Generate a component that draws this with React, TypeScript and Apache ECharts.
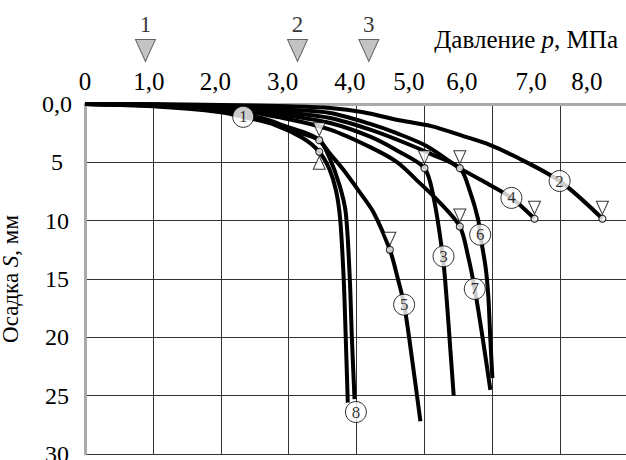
import React, { useEffect, useRef } from "react";
import * as echarts from "echarts";

// Axis ticks (grid units along the pressure axis) and their printed labels
const xLabelPos = [0, 0.94, 1.92, 2.91, 3.9, 4.77, 5.55, 6.57, 7.39];
const xLabelText = ["0", "1,0", "2,0", "3,0", "4,0", "5,0", "6,0", "7,0", "8,0"];

// Settlement curves: [pressure, settlement mm]
const curve1 = [[0, 0], [1, 0.2], [2, 0.7], [2.33, 1.1], [2.8, 1.8], [3.2, 2.9], [3.45, 4.1], [3.6, 5.6], [3.7, 7.5], [3.76, 10], [3.81, 15], [3.84, 20], [3.87, 25.6]];
const curve2 = [[0, 0], [1, 0.02], [2, 0.08], [3, 0.2], [3.61, 0.34], [4.1, 0.7], [4.59, 1.35], [5.1, 1.9], [5.57, 2.75], [5.96, 3.5], [6.3, 4.4], [6.99, 6.6], [7.62, 9.83]];
const curve3 = [[0, 0], [1, 0.06], [2, 0.3], [3, 1.0], [3.61, 1.63], [4.2, 2.8], [4.6, 4.0], [5.0, 5.5], [5.13, 7.9], [5.27, 13.1], [5.33, 17], [5.38, 21], [5.43, 25.0]];
const curve4 = [[0, 0], [1, 0.04], [2, 0.2], [3, 0.5], [3.61, 0.77], [4.2, 1.7], [4.59, 2.5], [5.03, 3.6], [5.52, 5.5], [5.92, 6.8], [6.28, 8.05], [6.62, 9.83]];
const curve5 = [[0, 0], [1, 0.15], [2, 0.55], [2.6, 1.2], [3.0, 2.0], [3.3, 2.6], [3.45, 3.1], [3.6, 4.2], [3.8, 5.6], [4.05, 7.6], [4.25, 9.3], [4.49, 12.5], [4.6, 14.8], [4.7, 17.2], [4.82, 22], [4.94, 27.2]];
const curve6 = [[0, 0], [1, 0.06], [2, 0.25], [3, 0.75], [3.61, 1.2], [4.2, 2.2], [4.7, 3.3], [5.1, 4.3], [5.52, 5.5], [5.67, 7.5], [5.79, 9.9], [5.82, 11.2], [5.9, 14], [5.94, 16.5], [5.97, 20.2], [6.0, 23.5]];
const curve7 = [[0, 0], [1, 0.08], [2, 0.35], [3, 1.3], [3.61, 2.2], [4.2, 3.7], [4.6, 5.0], [4.88, 6.5], [5.2, 8.3], [5.52, 10.5], [5.64, 13], [5.74, 15.85], [5.86, 20.2], [5.97, 24.5]];
const curve8 = [[0, 0], [1, 0.15], [2, 0.6], [2.6, 1.3], [3.0, 2.2], [3.45, 3.1], [3.6, 4.6], [3.75, 7], [3.84, 9.3], [3.9, 15], [3.93, 20], [3.97, 25.3]];
const curves = [curve1, curve2, curve3, curve4, curve5, curve6, curve7, curve8];

// Curve number labels [pressure, settlement, number]
const curveLabels = [[2.33, 1.1, "1"], [6.99, 6.6, "2"], [5.28, 13.06, "3"], [6.28, 8.05, "4"], [4.7, 17.2, "5"], [5.82, 11.2, "6"], [5.74, 15.85, "7"], [3.99, 26.4, "8"]];

// Marked points (small open circles)
const markPoints = [[3.45, 3.1], [3.45, 4.1], [4.49, 12.5], [5.0, 5.5], [5.52, 5.5], [5.52, 10.5], [6.62, 9.83], [7.62, 9.83]];
// Open triangles pointing down above the marks
const triDown = [[3.45, 3.1], [4.49, 12.5], [5.0, 5.5], [5.52, 5.5], [5.52, 10.5], [6.62, 9.83], [7.62, 9.83]];
// Open triangle pointing up below a mark
const triUp = [[3.45, 4.1]];

// Grey load markers above the axis [pressure, number]
const loadMarks = [[0.89, "1"], [3.13, "2"], [4.18, "3"]];

const FONT = "Liberation Serif";

export default function App() {
  const ref = useRef<HTMLDivElement>(null);
  useEffect(() => {
    if (!ref.current) return;
    const chart = echarts.init(ref.current, null, { renderer: "svg" });
    const lineSeries = curves.map((c, i) => ({
      type: "line",
      name: "curve" + (i + 1),
      xAxisIndex: 0,
      yAxisIndex: 0,
      data: c,
      smooth: 0.3,
      showSymbol: false,
      clip: false,
      lineStyle: { color: "#000", width: 4 },
      z: 2,
    }));
    chart.setOption({
      animation: false,
      title: {
        text: "{r|Давление }{i|p}{r|, МПа}",
        right: 3,
        top: 22,
        textStyle: {
          fontWeight: "normal",
          fontFamily: FONT,
          fontSize: 25,
          rich: {
            r: { fontFamily: FONT, fontSize: 25, fontWeight: "normal", color: "#000" },
            i: { fontFamily: FONT, fontSize: 25, fontWeight: "normal", fontStyle: "italic", color: "#000" },
          },
        },
      },
      grid: [
        { left: 85, top: 104, right: -2.2, height: 350, outerBoundsMode: "none", containLabel: false },
        { left: 85, top: 20, right: -2.2, height: 50, outerBoundsMode: "none", containLabel: false },
      ],
      xAxis: [
        {
          type: "value",
          gridIndex: 0,
          position: "top",
          min: 0,
          max: 8,
          interval: 1,
          axisLine: { show: true, lineStyle: { color: "#aaa", width: 3 } },
          axisTick: { show: false },
          axisLabel: { show: false },
          splitLine: { show: true, lineStyle: { color: "#333", width: 1 } },
        },
        {
          type: "value",
          gridIndex: 0,
          position: "top",
          min: 0,
          max: 8,
          axisLine: { show: false },
          axisTick: { show: false },
          splitLine: { show: false },
          axisLabel: {
            show: true,
            customValues: xLabelPos,
            margin: 10,
            fontFamily: FONT,
            fontSize: 25,
            color: "#000",
            formatter: (v: number) => {
              const i = xLabelPos.findIndex((p) => Math.abs(p - v) < 1e-6);
              return i >= 0 ? xLabelText[i] : "";
            },
          },
        },
        { type: "value", gridIndex: 1, min: 0, max: 8, show: false },
      ],
      yAxis: [
        {
          type: "value",
          gridIndex: 0,
          inverse: true,
          min: 0,
          max: 30,
          interval: 5,
          name: "{r|Осадка }{i|S}{r|, мм}",
          nameLocation: "middle",
          nameRotate: 90,
          nameGap: 63,
          nameTextStyle: {
            fontFamily: FONT,
            fontSize: 23,
            rich: {
              r: { fontFamily: FONT, fontSize: 23, color: "#000" },
              i: { fontFamily: FONT, fontSize: 23, fontStyle: "italic", color: "#000" },
            },
          },
          axisLine: { show: true, lineStyle: { color: "#aaa", width: 3 } },
          axisTick: { show: false },
          axisLabel: {
            margin: 28,
            align: "center",
            fontFamily: FONT,
            fontSize: 24,
            color: "#000",
            formatter: (v: number) => (v === 0 ? "0,0" : String(v)),
          },
          splitLine: { show: true, lineStyle: { color: "#333", width: 1 } },
        },
        { type: "value", gridIndex: 1, min: 0, max: 1, show: false },
      ],
      series: [
        ...lineSeries,
        {
          type: "scatter",
          xAxisIndex: 0,
          yAxisIndex: 0,
          data: triDown,
          symbol: "triangle",
          symbolRotate: 180,
          symbolSize: [12, 13],
          symbolOffset: [0, -11],
          clip: false,
          itemStyle: { color: "#fff", borderColor: "#000", borderWidth: 1 },
          z: 3,
        },
        {
          type: "scatter",
          xAxisIndex: 0,
          yAxisIndex: 0,
          data: triUp,
          symbol: "triangle",
          symbolSize: [12, 13],
          symbolOffset: [0, 11],
          clip: false,
          itemStyle: { color: "#fff", borderColor: "#000", borderWidth: 1 },
          z: 3,
        },
        {
          type: "scatter",
          xAxisIndex: 0,
          yAxisIndex: 0,
          data: markPoints,
          symbol: "circle",
          symbolSize: 7,
          clip: false,
          itemStyle: { color: "#fff", borderColor: "#000", borderWidth: 1.2 },
          z: 4,
        },
        {
          type: "scatter",
          xAxisIndex: 0,
          yAxisIndex: 0,
          data: curveLabels,
          symbol: "circle",
          symbolSize: 21,
          clip: false,
          itemStyle: { color: "#fff", borderColor: "#000", borderWidth: 1 },
          label: {
            show: true,
            position: "inside",
            formatter: (p: any) => p.value[2],
            fontFamily: FONT,
            fontSize: 17,
            color: "#000",
          },
          z: 5,
        },
        {
          type: "scatter",
          xAxisIndex: 2,
          yAxisIndex: 1,
          data: loadMarks.map((m) => [m[0], 0.39, m[1]]),
          symbol: "triangle",
          symbolRotate: 180,
          symbolSize: [20, 22],
          clip: false,
          itemStyle: { color: "#b4b4b4", borderColor: "#444", borderWidth: 1 },
          label: {
            show: true,
            position: "top",
            distance: 3,
            formatter: (p: any) => p.value[2],
            fontFamily: FONT,
            fontSize: 23,
            color: "#000",
          },
          z: 3,
        },
      ],
    });
    return () => chart.dispose();
  }, []);
  return (
    <div
      ref={ref}
      style={{ position: "fixed", left: 0, top: 0, width: 626, height: 460, background: "#fff" }}
    />
  );
}
